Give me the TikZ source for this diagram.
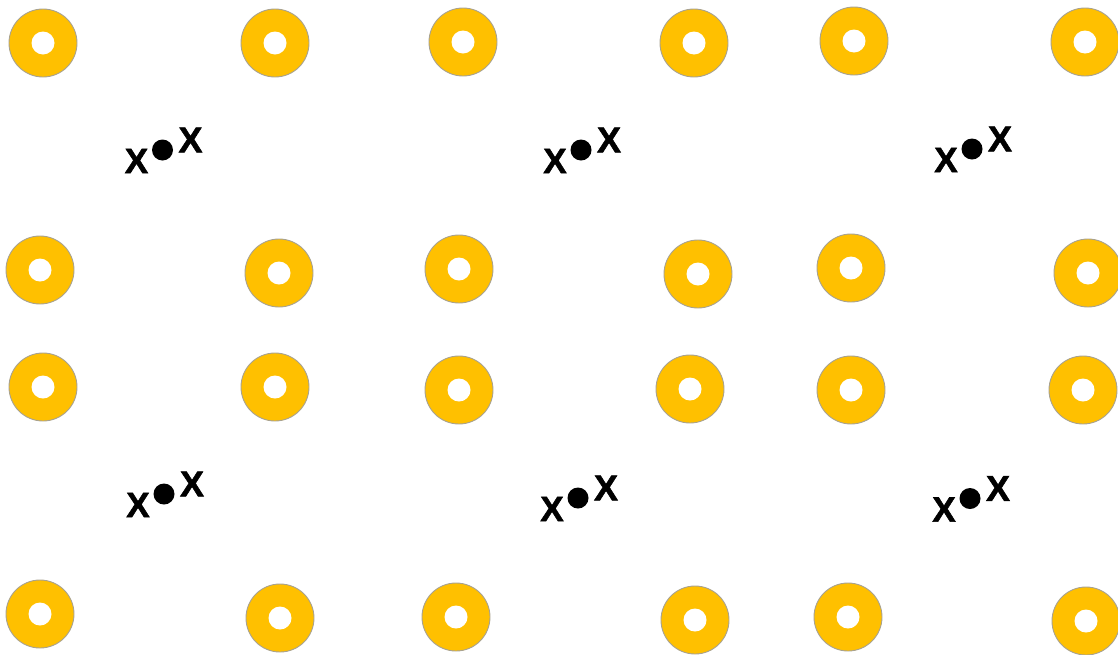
\documentclass[tikz,border=0pt]{standalone}
\usepackage{fontspec}
\setmainfont{Liberation Sans}
\newfontfamily\xfont[FakeBold=1.6]{Liberation Sans Bold}
\usepackage{tikz}
\usetikzlibrary{positioning}

\definecolor{ringgold}{HTML}{FFC000}
\definecolor{ringedge}{HTML}{A8A290}

\tikzset{
  ring/.style={circle, draw=ringedge, line width=0.9pt, fill=ringgold,
    minimum size=68pt, inner sep=0pt},
  hole/.style={circle, fill=white, minimum size=23pt, inner sep=0pt},
  bigx/.style={font=\xfont\fontsize{35}{35}\selectfont, inner sep=0pt},
  spot/.style={circle, fill=black, minimum size=21pt, inner sep=0pt}
}

\begin{document}
\begin{tikzpicture}[x=1pt, y=-1pt]
  \useasboundingbox (0,0) rectangle (1118,654);
  % gold rings
  \foreach \cx/\cy [count=\i] in {43/43, 275/43, 463/42, 694/43, 854/41, 1085/42,
      40/270, 279/273, 459/269, 698/274, 851/268, 1088/273,
      43/387, 275/387, 459/390, 690/389, 851/390, 1083/390,
      40/614, 280/618, 456/617, 695/620, 848/617, 1086/621}
  {
    \node[ring] (r\i) at (\cx,\cy) {};
    \node[hole] (h\i) at (r\i.center) {};
  }
  % x dot x markers
  \foreach \dx/\dy [count=\j] in {162.5/150, 581/150, 972/149, 164/494, 578/498, 970/498.5}
  {
    \node[spot] (d\j) at (\dx,\dy) {};
    \node[bigx] (xl\j) at (\dx-26,\dy+11) {X};
    \node[bigx, font=\xfont\fontsize{36}{36}\selectfont] (xr\j) at (\dx+28,\dy-10) {X};
  }
\end{tikzpicture}
\end{document}
